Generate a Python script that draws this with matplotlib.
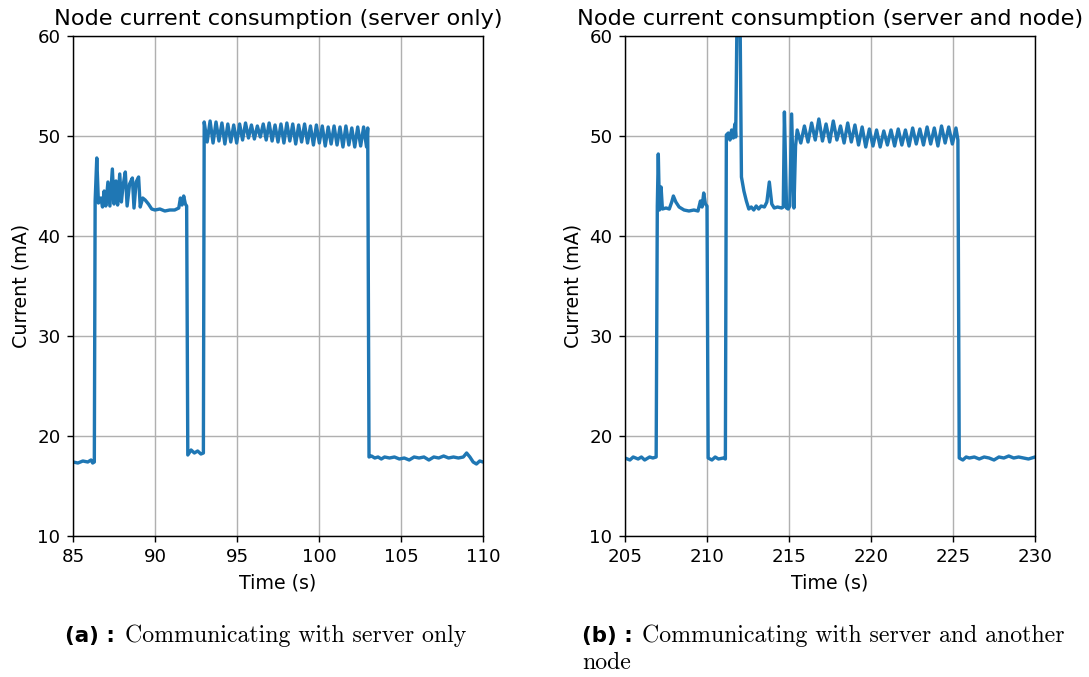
import matplotlib
matplotlib.use("Agg")
import matplotlib.pyplot as plt

# -----------------------------------------------------------
# data
# -----------------------------------------------------------
# (a) server only
t_a = [85.0, 85.3, 85.6, 85.9, 86.1, 86.2, 86.3,
       86.35, 86.45, 86.55, 86.7, 86.8, 86.9, 87.0, 87.13, 87.25, 87.4, 87.5,
       87.62, 87.72, 87.85, 87.95, 88.05, 88.19, 88.3, 88.45, 88.62, 88.72,
       88.85, 89.0, 89.1, 89.25, 89.4, 89.6, 89.8, 90.0, 90.3, 90.6, 90.9,
       91.2, 91.45, 91.55, 91.65, 91.75, 91.85, 91.93,
       92.0, 92.2, 92.4, 92.6, 92.8, 92.95,
       93.0, 93.18, 93.36, 93.54, 93.72, 93.9, 94.08, 94.26, 94.44, 94.62,
       94.8, 94.98, 95.16, 95.34, 95.52, 95.7, 95.88, 96.06, 96.24, 96.42,
       96.6, 96.78, 96.96, 97.14, 97.32, 97.5, 97.68, 97.86, 98.04, 98.22,
       98.4, 98.58, 98.76, 98.94, 99.12, 99.3, 99.48, 99.66, 99.84, 100.02,
       100.2, 100.38, 100.56, 100.74, 100.92, 101.1, 101.28, 101.46, 101.64,
       101.82, 102.0, 102.18, 102.36, 102.54, 102.72, 102.9, 102.97,
       103.05, 103.2, 103.4, 103.6, 103.8, 104.0, 104.3, 104.6, 104.9, 105.2,
       105.5, 105.8, 106.1, 106.4, 106.7, 107.0, 107.3, 107.6, 107.9, 108.2,
       108.5, 108.8, 109.0, 109.2, 109.4, 109.6, 109.8, 110.0]
i_a = [17.4, 17.3, 17.5, 17.4, 17.6, 17.3, 17.4,
       43.5, 47.8, 43.3, 43.8, 42.9, 44.5, 43.0, 45.4, 43.0, 46.7, 43.2,
       45.5, 43.1, 46.2, 43.4, 45.0, 46.4, 43.0, 45.2, 45.8, 42.8,
       45.4, 45.9, 42.9, 43.8, 43.6, 43.2, 42.7, 42.6, 42.7, 42.5, 42.6,
       42.6, 42.8, 43.8, 43.1, 44.0, 43.2, 43.0,
       18.1, 18.6, 18.3, 18.5, 18.2, 18.3,
       51.4, 49.4, 51.5, 49.3, 51.4, 49.5, 51.3, 49.2, 51.2, 49.4,
       51.1, 49.3, 51.2, 49.6, 51.3, 49.8, 51.1, 49.7, 51.0, 49.9,
       51.2, 49.6, 51.3, 49.5, 51.1, 49.4, 51.2, 49.3, 51.3, 49.5,
       51.2, 49.2, 51.1, 49.4, 51.2, 49.3, 51.0, 49.1, 51.1, 49.3,
       51.0, 49.0, 50.9, 49.2, 51.0, 49.1, 50.9, 48.9, 51.0, 49.1,
       50.8, 48.9, 50.9, 49.0, 50.9, 48.9, 50.8,
       17.9, 18.0, 17.8, 17.9, 17.7, 17.9, 17.8, 17.9, 17.7, 17.8,
       17.6, 17.9, 17.8, 17.9, 17.6, 17.9, 17.8, 18.0, 17.8, 17.9,
       17.8, 17.9, 18.3, 17.9, 17.4, 17.2, 17.5, 17.4]

# (b) server and another node
t_b = [205.0, 205.3, 205.5, 205.8, 206.0, 206.2, 206.5, 206.7, 206.9,
       206.97, 207.03, 207.1, 207.2, 207.28, 207.5, 207.7, 207.85, 207.95,
       208.1, 208.3, 208.6, 208.9, 209.2, 209.45, 209.6, 209.7, 209.8, 209.9,
       210.0, 210.07, 210.3, 210.5, 210.7, 211.0, 211.12,
       211.18, 211.3, 211.4, 211.5, 211.6, 211.7, 211.75, 211.85, 212.0,
       212.1, 212.25, 212.4, 212.55, 212.7, 212.85, 213.0, 213.15, 213.3,
       213.5, 213.65, 213.8, 213.95, 214.1, 214.3, 214.55, 214.65, 214.72,
       214.85, 214.95, 215.05, 215.16, 215.3, 215.4,
       215.5, 215.72, 215.94, 216.16, 216.38, 216.6, 216.82, 217.04, 217.26,
       217.48, 217.7, 217.92, 218.14, 218.36, 218.58, 218.8, 219.02, 219.24,
       219.46, 219.68, 219.9, 220.12, 220.34, 220.56, 220.78, 221.0, 221.22,
       221.44, 221.66, 221.88, 222.1, 222.32, 222.54, 222.76, 222.98, 223.2,
       223.42, 223.64, 223.86, 224.08, 224.3, 224.52, 224.74, 224.96, 225.18,
       225.3,
       225.38, 225.6, 225.8, 226.0, 226.3, 226.6, 226.9, 227.2, 227.5, 227.8,
       228.1, 228.4, 228.7, 229.0, 229.3, 229.6, 230.0]
i_b = [17.8, 17.6, 17.9, 17.7, 17.9, 17.6, 17.9, 17.8, 17.9,
       43.0, 48.2, 42.6, 44.9, 42.7, 42.8, 42.7, 43.4, 44.0,
       43.4, 42.9, 42.6, 42.5, 42.6, 42.5, 43.5, 42.9, 44.3, 43.2,
       43.0, 17.8, 17.6, 17.9, 17.7, 17.8, 17.7,
       50.1, 50.3, 49.6, 50.6, 49.8, 51.2, 49.9, 65.0, 65.0,
       45.9, 44.5, 43.5, 42.7, 42.9, 42.6, 43.0, 42.7, 43.0,
       42.9, 43.4, 45.4, 43.2, 42.8, 42.9, 42.8, 42.9, 52.4,
       42.8, 42.7, 43.0, 52.2, 42.8, 49.0,
       50.6, 49.3, 51.0, 49.4, 51.3, 49.6, 51.7, 49.5, 51.2,
       49.4, 51.5, 49.6, 51.0, 49.3, 51.3, 49.4, 51.1, 49.1,
       50.9, 48.9, 50.7, 49.0, 50.6, 48.9, 50.5, 49.1, 50.6,
       49.0, 50.7, 49.1, 50.6, 49.0, 50.8, 49.2, 50.7, 49.1,
       50.9, 49.2, 50.8, 49.0, 51.0, 49.3, 50.9, 49.2, 50.8,
       49.6,
       17.8, 17.6, 17.9, 17.8, 17.9, 17.7, 17.9, 17.8, 17.6, 17.9,
       17.8, 18.0, 17.8, 17.9, 17.8, 17.7, 17.9]

titles = ["Node current consumption (server only)",
          "Node current consumption (server and node)"]
xlims = [(85, 110), (205, 230)]
xticks = [[85, 90, 95, 100, 105, 110], [205, 210, 215, 220, 225, 230]]
yticks = [10, 20, 30, 40, 50, 60]
caption_tags = ["(a) :", "(b) :"]
caption_lines = [["Communicating with server only"],
                 ["Communicating with server and another", "node"]]

# -----------------------------------------------------------
# plot
# -----------------------------------------------------------
fig = plt.figure(figsize=(1089 / 128, 677 / 128), dpi=128)
ax_a = fig.add_axes([73 / 1089, 1 - 536 / 677, 410 / 1089, 500 / 677])
ax_b = fig.add_axes([625 / 1089, 1 - 536 / 677, 410 / 1089, 500 / 677])

for ax, t, cur, title, xl, xt in zip([ax_a, ax_b], [t_a, t_b], [i_a, i_b],
                                     titles, xlims, xticks):
    ax.plot(t, cur, color='tab:blue', linewidth=1.9)
    ax.set_xlim(xl)
    ax.set_ylim(10, 60)
    ax.set_xticks(xt)
    ax.set_yticks(yticks)
    ax.tick_params(labelsize=10.3)
    ax.grid(True, color='#b0b0b0', linewidth=0.8)
    ax.set_axisbelow(True)
    ax.set_xlabel('Time (s)', fontsize=10.7)
    ax.set_ylabel('Current (mA)', fontsize=10.7)
    ax.set_title(title, fontsize=12.6)

# captions under each panel
cap_x = [65, 582]
for tag, lines, x0 in zip(caption_tags, caption_lines, cap_x):
    fig.text(x0 / 1089, 1 - 636 / 677, tag, fontweight='bold',
             fontsize=12, va='center', ha='left', family='DejaVu Sans')
    for k, line in enumerate(lines):
        xx = (x0 + 60) / 1089 if k == 0 else x0 / 1089
        fig.text(xx, 1 - (636 + 27 * k) / 677, line, fontsize=13.4,
                 va='center', ha='left', family='cmr10')

fig.savefig('out.png', dpi=128)
